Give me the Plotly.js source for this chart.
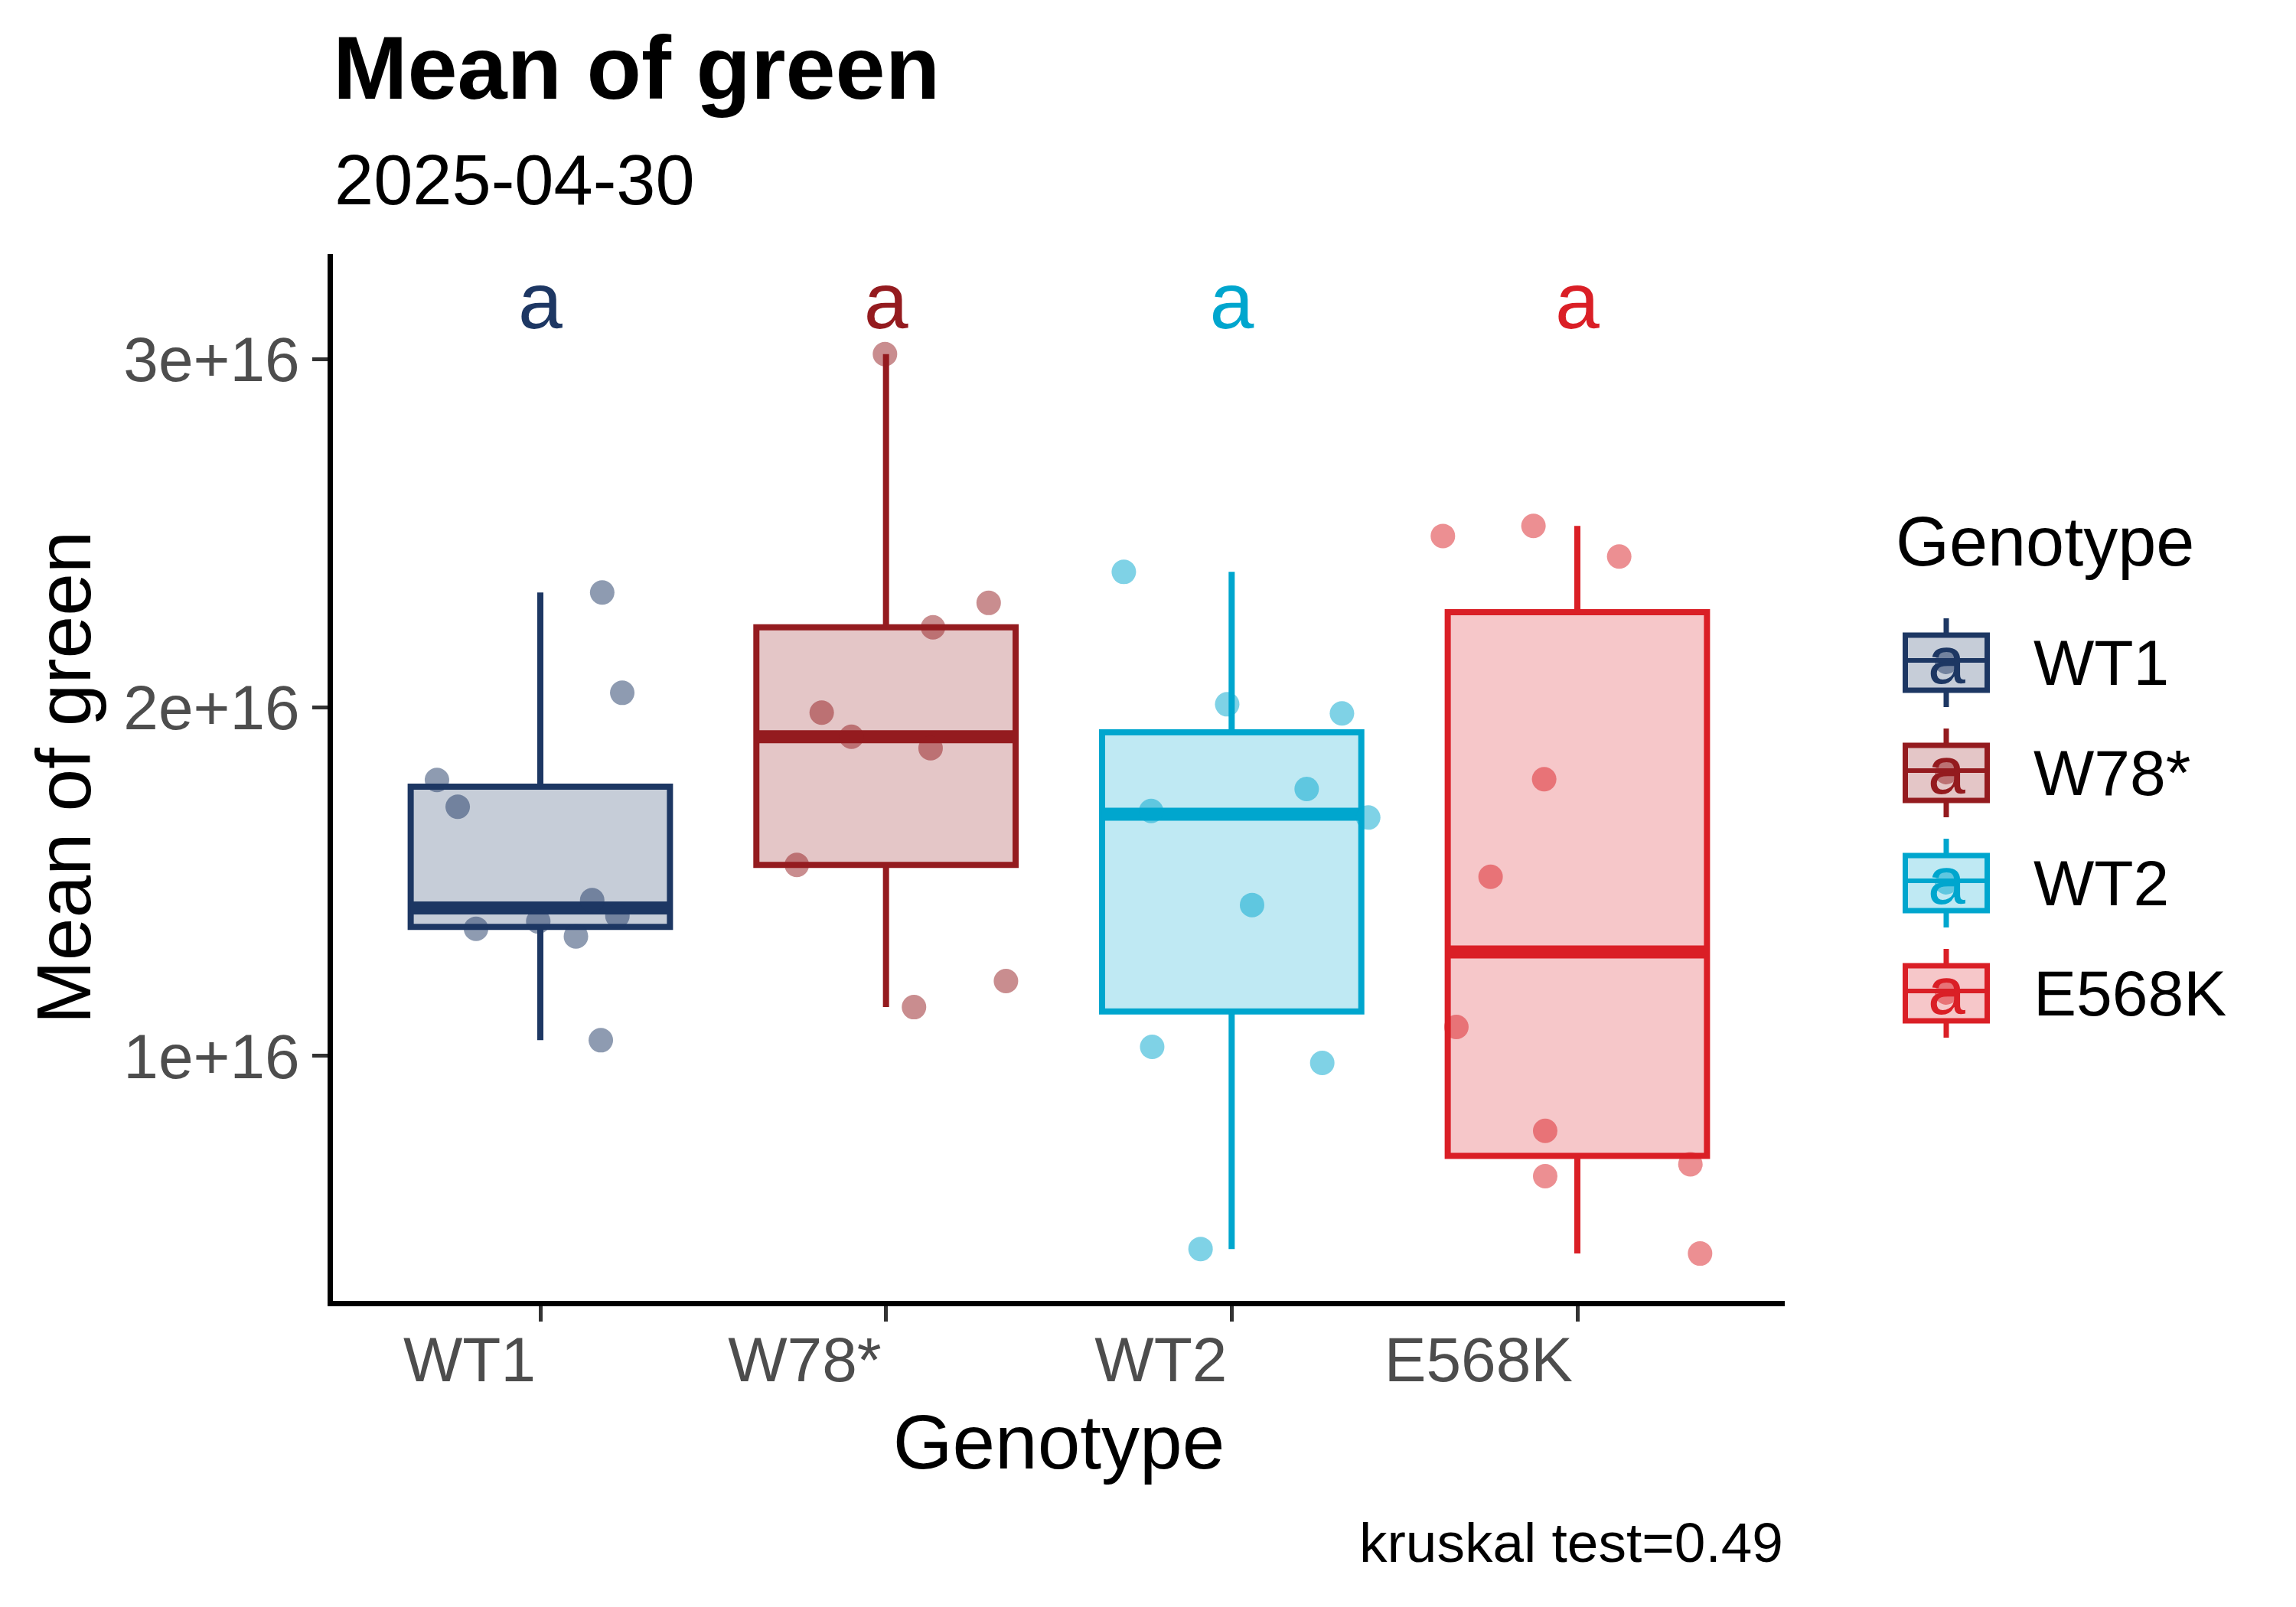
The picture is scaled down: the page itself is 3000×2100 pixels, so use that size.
<!DOCTYPE html>
<html>
<head>
<meta charset="utf-8">
<script src="https://cdn.plot.ly/plotly-3.0.1.min.js"></script>
<style>
  body { margin: 0; background: #fff; }
  #chart { width: 3000px; height: 2100px; }
</style>
</head>
<body>
<div id="chart"></div>
<script>
const genotypes = ['WT1', 'W78*', 'WT2', 'E568K'];
const colors = ['#1D3763', '#941B1F', '#00A6CE', '#DA1F26'];
const fills = ['rgba(29,55,99,0.25)', 'rgba(148,27,31,0.25)', 'rgba(0,166,206,0.25)', 'rgba(218,31,38,0.25)'];
const dots = ['rgba(29,55,99,0.5)', 'rgba(148,27,31,0.5)', 'rgba(0,166,206,0.5)', 'rgba(218,31,38,0.5)'];

// mean of green per sample
const wt1 = [2.330e16, 2.042e16, 1.792e16, 1.715e16, 1.447e16, 1.402e16, 1.365e16, 1.386e16, 1.343e16, 1.045e16];
const w78 = [3.014e16, 2.300e16, 2.230e16, 1.985e16, 1.916e16, 1.883e16, 1.548e16, 1.215e16, 1.140e16];
const wt2 = [2.389e16, 2.009e16, 1.983e16, 1.766e16, 1.703e16, 1.684e16, 1.433e16, 1.026e16, 0.980e16, 0.446e16];
const e568k = [2.492e16, 2.521e16, 2.433e16, 1.794e16, 1.514e16, 1.083e16, 0.785e16, 0.689e16, 0.655e16, 0.433e16];

// horizontal jitter of each point (category units)
const wt1Jit = [0.179, 0.237, -0.299, -0.239, 0.150, 0.223, -0.186, -0.006, 0.103, 0.175];
const w78Jit = [-0.003, 0.297, 0.136, -0.186, -0.100, 0.129, -0.258, 0.347, 0.081];
const wt2Jit = [-0.312, -0.013, 0.319, 0.217, -0.233, 0.395, 0.059, -0.230, 0.262, -0.090];
const e568kJit = [-0.389, -0.127, 0.121, -0.096, -0.251, -0.350, -0.093, 0.327, -0.093, 0.355];

const letters = ['a', 'a', 'a', 'a'];
const letterY = 3.145e16;
const caption = 'kruskal test=0.49';

const groups = [wt1, w78, wt2, e568k];
const jitters = [wt1Jit, w78Jit, wt2Jit, e568kJit];

const FONT = 'Liberation Sans, Arial, Helvetica, sans-serif';

// R type 7 quantile
function quantile(vals, p) {
    const s = vals.slice().sort((a, b) => a - b);
    const h = (s.length - 1) * p;
    const lo = Math.floor(h);
    const hi = Math.ceil(h);
    return s[lo] + (h - lo) * (s[hi] - s[lo]);
}

function boxStats(vals) {
    const q1 = quantile(vals, 0.25);
    const q3 = quantile(vals, 0.75);
    const iqr = q3 - q1;
    const inside = vals.filter(v => v >= q1 - 1.5 * iqr && v <= q3 + 1.5 * iqr);
    return {
        q1: q1,
        median: quantile(vals, 0.5),
        q3: q3,
        lo: Math.min(...inside),
        hi: Math.max(...inside),
    };
}

const traces = [];

groups.forEach((vals, i) => {
    const st = boxStats(vals);
    traces.push({
        type: 'box',
        x: [i],
        q1: [st.q1], median: [st.median], q3: [st.q3],
        lowerfence: [st.lo], upperfence: [st.hi],
        width: 0.75,
        whiskerwidth: 0,
        boxpoints: false,
        line: { color: colors[i], width: 8 },
        fillcolor: fills[i],
        hoverinfo: 'skip',
        showlegend: false,
    });
    // ggplot draws the median twice as thick
    traces.push({
        type: 'scatter', mode: 'lines',
        x: [i - 0.375, i + 0.375],
        y: [st.median, st.median],
        line: { color: colors[i], width: 17 },
        hoverinfo: 'skip',
        showlegend: false,
    });
});

groups.forEach((vals, i) => {
    traces.push({
        type: 'scatter', mode: 'markers',
        x: jitters[i].map(j => i + j),
        y: vals,
        marker: { size: 32, color: dots[i], line: { width: 0 } },
        name: genotypes[i],
        showlegend: false,
    });
});

traces.push({
    type: 'scatter', mode: 'text',
    x: genotypes.map((g, i) => i),
    y: genotypes.map(() => letterY),
    text: letters,
    textposition: 'middle center',
    textfont: { family: FONT, size: 104, color: colors },
    hoverinfo: 'skip',
    showlegend: false,
});

// plot area in pixels
const L = 435, R = 2332, T = 332, B = 1700;
const px = x => (x - L) / (R - L);
const py = y => (B - y) / (B - T);

const shapes = [];
const annotations = [];

annotations.push({
    text: '2025-04-30', xref: 'paper', yref: 'paper',
    x: 0, y: py(235), xanchor: 'left', yanchor: 'middle',
    showarrow: false, font: { family: FONT, size: 92, color: '#000' },
});
annotations.push({
    text: caption, xref: 'paper', yref: 'paper',
    x: 1, y: py(2016), xanchor: 'right', yanchor: 'middle',
    showarrow: false, font: { family: FONT, size: 73, color: '#000' },
});

// legend, drawn by hand so the keys look like ggplot's
annotations.push({
    text: 'Genotype', xref: 'paper', yref: 'paper',
    x: px(2475), y: py(708), xanchor: 'left', yanchor: 'middle',
    showarrow: false, font: { family: FONT, size: 90, color: '#000' },
});
const keyX = 2543, keyW = 107, keyH = 72, rowGap = 144;
genotypes.forEach((g, i) => {
    const cy = 866 + rowGap * i;
    const line = { color: colors[i], width: 7 };
    shapes.push({ type: 'line', xref: 'paper', yref: 'paper', x0: px(keyX), x1: px(keyX), y0: py(cy - 58), y1: py(cy - keyH / 2), line: line });
    shapes.push({ type: 'line', xref: 'paper', yref: 'paper', x0: px(keyX), x1: px(keyX), y0: py(cy + keyH / 2), y1: py(cy + 58), line: line });
    shapes.push({
        type: 'rect', xref: 'paper', yref: 'paper',
        x0: px(keyX - keyW / 2), x1: px(keyX + keyW / 2), y0: py(cy - keyH / 2), y1: py(cy + keyH / 2),
        line: line, fillcolor: fills[i],
    });
    shapes.push({ type: 'line', xref: 'paper', yref: 'paper', x0: px(keyX - keyW / 2), x1: px(keyX + keyW / 2), y0: py(cy - 3), y1: py(cy - 3), line: { color: colors[i], width: 6 } });
    shapes.push({
        type: 'circle', xref: 'paper', yref: 'paper', xsizemode: 'pixel', ysizemode: 'pixel',
        xanchor: px(keyX), yanchor: py(cy), x0: -15, x1: 15, y0: -15, y1: 15,
        fillcolor: dots[i], line: { width: 0 },
    });
    annotations.push({
        text: 'a', xref: 'paper', yref: 'paper',
        x: px(keyX), y: py(cy - 4), xanchor: 'center', yanchor: 'middle',
        showarrow: false, font: { family: FONT, size: 88, color: colors[i] },
    });
    annotations.push({
        text: g, xref: 'paper', yref: 'paper',
        x: px(2655), y: py(cy), xanchor: 'left', yanchor: 'middle',
        showarrow: false, font: { family: FONT, size: 84, color: '#000' },
    });
});

const axisCommon = {
    showline: true, linecolor: '#000', linewidth: 7,
    ticks: 'outside', ticklen: 20, tickwidth: 5, tickcolor: '#333333',
    showgrid: false, zeroline: false,
    tickfont: { family: FONT, size: 82, color: '#4D4D4D' },
};

const layout = {
    width: 3000, height: 2100,
    margin: { l: L, r: 3000 - R, t: T, b: 2100 - B },
    paper_bgcolor: '#fff', plot_bgcolor: '#fff',
    boxmode: 'overlay',
    showlegend: false,
    font: { family: FONT },
    title: {
        text: 'Mean of green',
        xref: 'paper', x: 0, xanchor: 'left',
        yref: 'container', y: 1 - 47 / 2100, yanchor: 'top',
        font: { family: FONT, size: 117, weight: 'bold', color: '#000' },
    },
    xaxis: Object.assign({}, axisCommon, {
        range: [-0.6, 3.6],
        tickvals: [0, 1, 2, 3],
        ticktext: genotypes,
        ticklabelposition: 'outside left',
        title: { text: 'Genotype', font: { family: FONT, size: 100, color: '#000' }, standoff: 30 },
    }),
    yaxis: Object.assign({}, axisCommon, {
        range: [0.297e16, 3.301e16],
        tick0: 0, dtick: 1e16,
        exponentformat: 'e',
        title: { text: 'Mean of green', font: { family: FONT, size: 100, color: '#000' }, standoff: 12 },
    }),
    shapes: shapes,
    annotations: annotations,
};

Plotly.newPlot('chart', traces, layout, { displayModeBar: false, staticPlot: true });
</script>
</body>
</html>
